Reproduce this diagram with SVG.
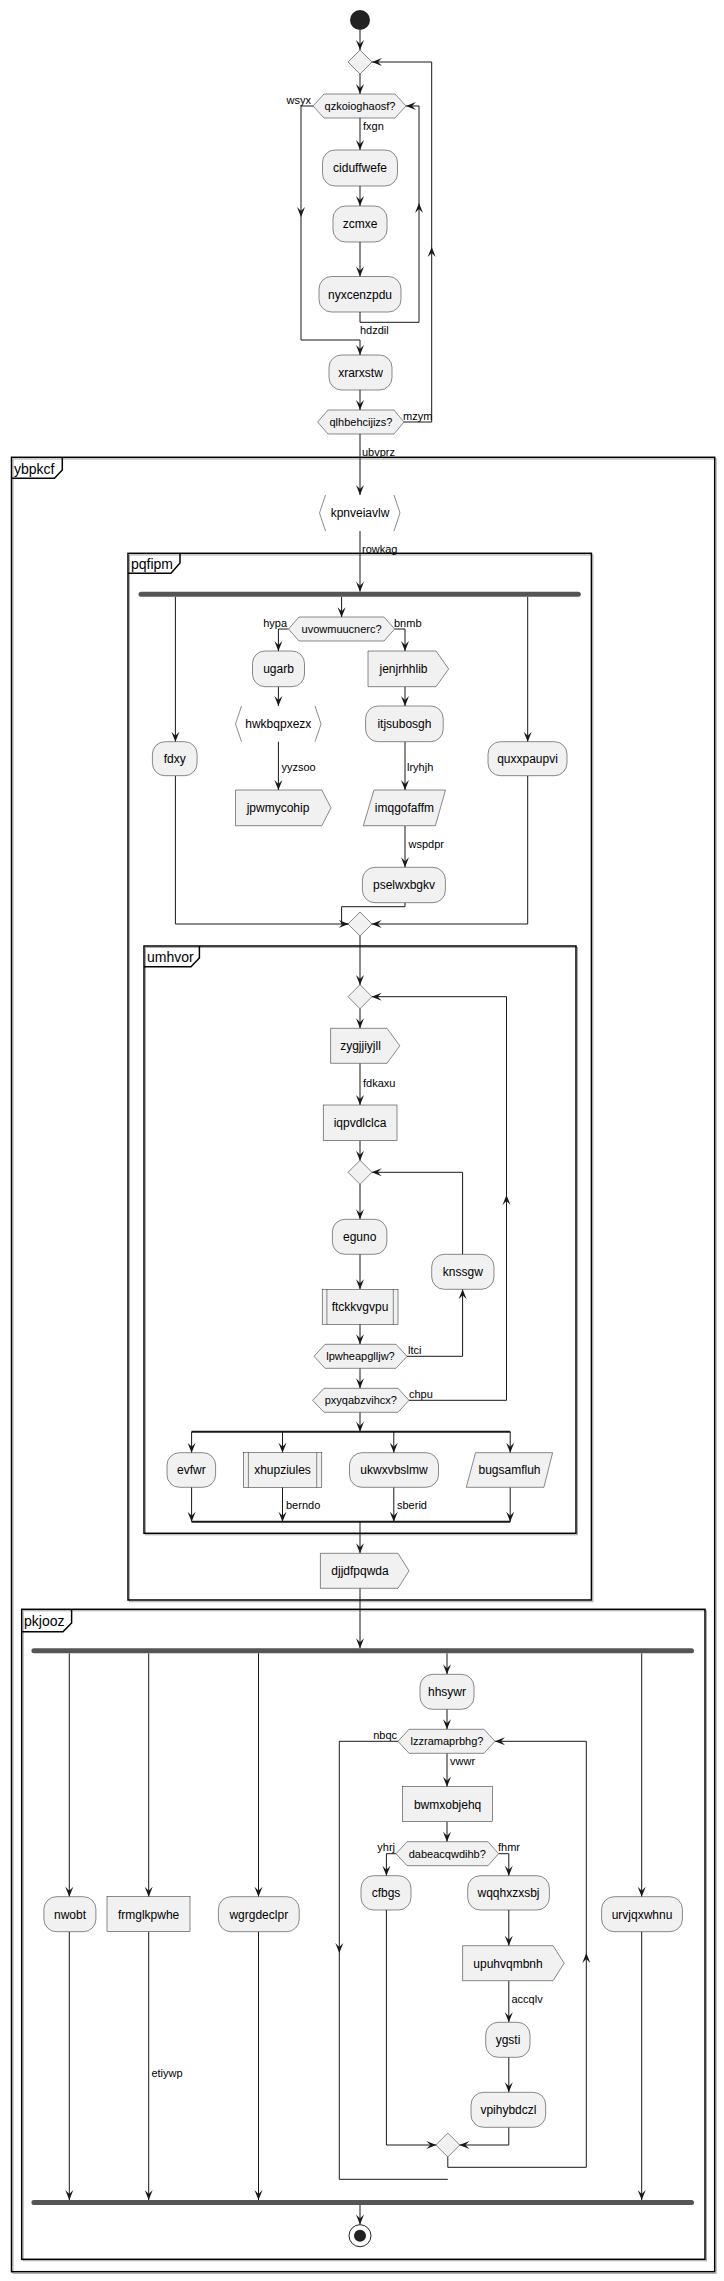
<svg xmlns="http://www.w3.org/2000/svg" xmlns:xlink="http://www.w3.org/1999/xlink" width="724" height="2281" viewBox="0 0 724 2281">
<style>
.n{fill:#F1F1F1;stroke:#181818;stroke-width:0.5}
.b{fill:none;stroke:#181818;stroke-width:0.5}
.t{font-family:"Liberation Sans",Arial,sans-serif;font-size:12px;text-anchor:middle;fill:#000}
.h{font-family:"Liberation Sans",Arial,sans-serif;font-size:11px;text-anchor:middle;fill:#000}
.l{font-family:"Liberation Sans",Arial,sans-serif;font-size:11px;fill:#000}
.r{text-anchor:end}
.e{fill:none;stroke:#181818;stroke-width:1}
.fr{fill:none;stroke:#000;stroke-width:1.5}
.fs{fill:none;stroke:#aaa;stroke-width:1}
.ft{font-family:"Liberation Sans",Arial,sans-serif;font-size:14px;fill:#000}
.bar{fill:#555555}
.sp{stroke:#181818;stroke-width:2}
</style>
<defs>
<path id="ah" d="M0,0 L-4,-10 L0,-6 L4,-10 Z" fill="#181818"/>
</defs>
<rect width="724" height="2281" fill="#fff"/>

<g id="frames">
<rect class="fs" x="13" y="459" width="703.2" height="1814.4"/>
<rect class="fr" x="11.5" y="457.3" width="703.2" height="1814.4"/>
<path class="fr" d="M11.5,478.3 L54.5,478.3 L62.3,470 L62.3,457.3"/>
<text class="ft" x="14" y="474">ybpkcf</text>

<rect class="fs" x="129.5" y="555" width="463.4" height="1046.7"/>
<rect class="fr" x="128" y="553.3" width="463.4" height="1046.7"/>
<path class="fr" d="M128,573.3 L171,573.3 L180,563 L180,553.3"/>
<text class="ft" x="131" y="569">pqfipm</text>

<rect class="fs" x="145.5" y="947.5" width="432" height="587.3"/>
<rect class="fr" x="144" y="946" width="432" height="587.3"/>
<path class="fr" d="M144,966.7 L191,966.7 L199.4,958 L199.4,946"/>
<text class="ft" x="147" y="962">umhvor</text>

<rect class="fs" x="23.2" y="1610.8" width="683.3" height="650"/>
<rect class="fr" x="21.7" y="1609.3" width="683.3" height="650"/>
<path class="fr" d="M21.7,1631.7 L63,1631.7 L71.6,1623 L71.6,1609.3"/>
<text class="ft" x="24" y="1626">pkjooz</text>
</g>

<g id="connectors">
<path class="e" d="M360,30 V50"/><use href="#ah" transform="translate(360,50)"/>
<path class="e" d="M360,74 V94"/><use href="#ah" transform="translate(360,94)"/>
<path class="e" d="M313,106 H301 V340 H360 V355"/><use href="#ah" transform="translate(360,355)"/><use href="#ah" transform="translate(301,217)"/>
<text class="l r" x="311" y="104">wsyx</text>
<path class="e" d="M360,118 V150"/><use href="#ah" transform="translate(360,150)"/>
<text class="l" x="363" y="130">fxgn</text>
<path class="e" d="M360,186 V206"/><use href="#ah" transform="translate(360,206)"/>
<path class="e" d="M360,242 V276.5"/><use href="#ah" transform="translate(360,276.5)"/>
<path class="e" d="M360,312 V322.3 H419 V106 H406"/><use href="#ah" transform="translate(406,106) rotate(90)"/><use href="#ah" transform="translate(419,203) rotate(180)"/>
<text class="l" x="360" y="334">hdzdil</text>
<path class="e" d="M360,390 V410"/><use href="#ah" transform="translate(360,410)"/>
<path class="e" d="M404,422 H431.7 V62 H372"/><use href="#ah" transform="translate(372,62) rotate(90)"/><use href="#ah" transform="translate(431.7,247) rotate(180)"/>
<text class="l" x="403" y="420">mzym</text>
<path class="e" d="M360,434 V495"/><use href="#ah" transform="translate(360,495)"/>
<text class="l" x="362" y="456">ubvprz</text>
<path class="e" d="M360,531 V591.7"/><use href="#ah" transform="translate(360,591.7)"/>
<text class="l" x="362" y="552.5">rowkag</text>

<path class="e" d="M175.4,596.7 V741.7"/><use href="#ah" transform="translate(175.4,741.7)"/>
<path class="e" d="M341.6,596.7 V617.3"/><use href="#ah" transform="translate(341.6,617.3)"/>
<path class="e" d="M527.7,596.7 V741.7"/><use href="#ah" transform="translate(527.7,741.7)"/>
<path class="e" d="M288.5,629 H278.4 V651"/><use href="#ah" transform="translate(278.4,651)"/>
<text class="l r" x="287" y="627">hypa</text>
<path class="e" d="M394.7,629 H405 V651"/><use href="#ah" transform="translate(405,651)"/>
<text class="l" x="394" y="627">bnmb</text>
<path class="e" d="M278.4,686.7 V706"/><use href="#ah" transform="translate(278.4,706)"/>
<path class="e" d="M405,686.7 V706"/><use href="#ah" transform="translate(405,706)"/>
<path class="e" d="M278.4,741.7 V790"/><use href="#ah" transform="translate(278.4,790)"/>
<text class="l" x="281.5" y="770.5">yyzsoo</text>
<path class="e" d="M405,741.7 V790"/><use href="#ah" transform="translate(405,790)"/>
<text class="l" x="407" y="770.5">lryhjh</text>
<path class="e" d="M405,825.7 V867.3"/><use href="#ah" transform="translate(405,867.3)"/>
<text class="l" x="408.5" y="848">wspdpr</text>
<path class="e" d="M405,902.7 V906.7 H341.6 V924 H348.6"/>
<path class="e" d="M175.4,775.7 V924 H348.6"/><use href="#ah" transform="translate(348.6,924) rotate(-90)"/>
<path class="e" d="M527.7,775.7 V924 H371.7"/><use href="#ah" transform="translate(371.7,924) rotate(90)"/>
<path class="e" d="M360,936 V985"/><use href="#ah" transform="translate(360,985)"/>
<path class="e" d="M360,1008.3 V1028.3"/><use href="#ah" transform="translate(360,1028.3)"/>
<path class="e" d="M360,1063.3 V1105"/><use href="#ah" transform="translate(360,1105)"/>
<text class="l" x="363" y="1086.5">fdkaxu</text>
<path class="e" d="M360,1140.7 V1160.7"/><use href="#ah" transform="translate(360,1160.7)"/>
<path class="e" d="M360,1184 V1219.3"/><use href="#ah" transform="translate(360,1219.3)"/>
<path class="e" d="M360,1254.3 V1289.3"/><use href="#ah" transform="translate(360,1289.3)"/>
<path class="e" d="M360,1324.3 V1344.3"/><use href="#ah" transform="translate(360,1344.3)"/>
<path class="e" d="M407,1356.3 H462.6 V1289.3"/><use href="#ah" transform="translate(462.6,1289.3) rotate(180)"/>
<text class="l" x="408" y="1354">ltci</text>
<path class="e" d="M462.6,1254.3 V1172.3 H371.7"/><use href="#ah" transform="translate(371.7,1172.3) rotate(90)"/>
<path class="e" d="M360,1368.3 V1388.3"/><use href="#ah" transform="translate(360,1388.3)"/>
<path class="e" d="M409,1400.3 H506.5 V996.7 H371.7"/><use href="#ah" transform="translate(371.7,996.7) rotate(90)"/><use href="#ah" transform="translate(506.5,1195) rotate(180)"/>
<text class="l" x="409" y="1398">chpu</text>
<path class="e" d="M360,1412.3 V1431.7"/><use href="#ah" transform="translate(360,1431.7)"/>
<line class="sp" x1="191.6" y1="1431.7" x2="510.2" y2="1431.7"/>
<path class="e" d="M191.6,1431.7 V1452.7"/><use href="#ah" transform="translate(191.6,1452.7)"/>
<path class="e" d="M282.5,1431.7 V1452.7"/><use href="#ah" transform="translate(282.5,1452.7)"/>
<path class="e" d="M393.8,1431.7 V1452.7"/><use href="#ah" transform="translate(393.8,1452.7)"/>
<path class="e" d="M510.2,1431.7 V1452.7"/><use href="#ah" transform="translate(510.2,1452.7)"/>
<path class="e" d="M191.6,1487.3 V1521.7"/><use href="#ah" transform="translate(191.6,1521.7)"/>
<path class="e" d="M282.5,1487.3 V1521.7"/><use href="#ah" transform="translate(282.5,1521.7)"/>
<text class="l" x="286" y="1508.5">berndo</text>
<path class="e" d="M393.8,1487.3 V1521.7"/><use href="#ah" transform="translate(393.8,1521.7)"/>
<text class="l" x="397" y="1508.5">sberid</text>
<path class="e" d="M510.2,1487.3 V1521.7"/><use href="#ah" transform="translate(510.2,1521.7)"/>
<line class="sp" x1="191.6" y1="1521.7" x2="510.2" y2="1521.7"/>
<path class="e" d="M360,1521.7 V1553.3"/><use href="#ah" transform="translate(360,1553.3)"/>
<path class="e" d="M360,1588.3 V1648.3"/><use href="#ah" transform="translate(360,1648.3)"/>

<path class="e" d="M69.3,1653.3 V1896.7"/><use href="#ah" transform="translate(69.3,1896.7)"/>
<path class="e" d="M148.7,1653.3 V1896.7"/><use href="#ah" transform="translate(148.7,1896.7)"/>
<path class="e" d="M258.5,1653.3 V1896.7"/><use href="#ah" transform="translate(258.5,1896.7)"/>
<path class="e" d="M447,1653.3 V1674.3"/><use href="#ah" transform="translate(447,1674.3)"/>
<path class="e" d="M641.7,1653.3 V1896.7"/><use href="#ah" transform="translate(641.7,1896.7)"/>
<path class="e" d="M447,1709.3 V1729.3"/><use href="#ah" transform="translate(447,1729.3)"/>
<path class="e" d="M398,1741.3 H339.3 V2179.3 H447.8"/><use href="#ah" transform="translate(339.3,1953)"/>
<text class="l r" x="397" y="1739">nbqc</text>
<path class="e" d="M447,1753.3 V1786.7"/><use href="#ah" transform="translate(447,1786.7)"/>
<text class="l" x="450" y="1765">vwwr</text>
<path class="e" d="M447,1821.7 V1841.7"/><use href="#ah" transform="translate(447,1841.7)"/>
<path class="e" d="M396,1853.7 H386.4 V1875.7"/><use href="#ah" transform="translate(386.4,1875.7)"/>
<text class="l r" x="395" y="1851">yhrj</text>
<path class="e" d="M498.6,1853.7 H508.8 V1875.7"/><use href="#ah" transform="translate(508.8,1875.7)"/>
<text class="l" x="498" y="1851">fhmr</text>
<path class="e" d="M508.8,1910 V1945.7"/><use href="#ah" transform="translate(508.8,1945.7)"/>
<path class="e" d="M508.8,1980.7 V2022.3"/><use href="#ah" transform="translate(508.8,2022.3)"/>
<text class="l" x="511.5" y="2003">accqlv</text>
<path class="e" d="M508.8,2057.3 V2092.3"/><use href="#ah" transform="translate(508.8,2092.3)"/>
<path class="e" d="M386.4,1910 V2145 H436.3"/><use href="#ah" transform="translate(436.3,2145) rotate(-90)"/>
<path class="e" d="M508.8,2127.3 V2145 H459.4"/><use href="#ah" transform="translate(459.4,2145) rotate(90)"/>
<path class="e" d="M447.8,2156.7 V2167.3 H586.3 V1741.3 H495"/><use href="#ah" transform="translate(495,1741.3) rotate(90)"/><use href="#ah" transform="translate(586.3,1953) rotate(180)"/>
<path class="e" d="M69.3,1931.7 V2200"/><use href="#ah" transform="translate(69.3,2200)"/>
<path class="e" d="M148.7,1931.7 V2200"/><use href="#ah" transform="translate(148.7,2200)"/>
<text class="l" x="151.4" y="2076.5">etiywp</text>
<path class="e" d="M258.5,1931.7 V2200"/><use href="#ah" transform="translate(258.5,2200)"/>
<path class="e" d="M641.7,1931.7 V2200"/><use href="#ah" transform="translate(641.7,2200)"/>
<path class="e" d="M360,2205 V2224.5"/><use href="#ah" transform="translate(360,2224.5)"/>
</g>

<g id="start"><circle cx="360" cy="20" r="10" fill="#222"/></g>
<g id="d1"><polygon class="n" points="360,50 372,62 360,74 348,62"/></g>
<g id="qzkoioghaosf"><polygon class="n" points="313,106 324,94 395,94 406,106 395,118 324,118"/><text class="h" x="360" y="110">qzkoioghaosf?</text></g>
<g id="ciduffwefe"><rect class="n" x="322.5" y="150" width="75" height="36" rx="12.5"/><text class="t" x="360" y="172">ciduffwefe</text></g>
<g id="zcmxe"><rect class="n" x="333" y="206" width="54" height="36" rx="12.5"/><text class="t" x="360" y="228">zcmxe</text></g>
<g id="nyxcenzpdu"><rect class="n" x="319" y="276.5" width="82" height="35.5" rx="12.5"/><text class="t" x="360" y="298.5">nyxcenzpdu</text></g>
<g id="xrarxstw"><rect class="n" x="329" y="355" width="63" height="35" rx="12.5"/><text class="t" x="360.5" y="376.5">xrarxstw</text></g>
<g id="qlhbehcijizs"><polygon class="n" points="317.6,422 328,410 394,410 404,422 394,434 328,434"/><text class="h" x="361" y="426">qlhbehcijizs?</text></g>
<g id="kpnveiavlw"><polyline class="b" points="325.5,495 319.5,513 325.5,531"/><polyline class="b" points="394,495 400,513 394,531"/><text class="t" x="360" y="517">kpnveiavlw</text></g>

<g id="fork1"><rect class="bar" x="138.5" y="591.7" width="442.3" height="5" rx="2.5"/></g>
<g id="uvowmuucnerc"><polygon class="n" points="288.5,629 299,617 384,617 394.7,629 384,641 299,641"/><text class="h" x="341.6" y="633">uvowmuucnerc?</text></g>
<g id="ugarb"><rect class="n" x="252.5" y="651" width="52" height="35.7" rx="12.5"/><text class="t" x="278.5" y="673">ugarb</text></g>
<g id="jenjrhhlib"><polygon class="n" points="368,651 436,651 448.7,669 436,686.7 368,686.7"/><text class="t" x="403.5" y="673">jenjrhhlib</text></g>
<g id="hwkbqpxezx"><polyline class="b" points="241.5,706 235.5,724 241.5,741.7"/><polyline class="b" points="315,706 321,724 315,741.7"/><text class="t" x="278.3" y="728">hwkbqpxezx</text></g>
<g id="itjsubosgh"><rect class="n" x="365.6" y="706" width="77.6" height="35.7" rx="12.5"/><text class="t" x="404.4" y="728">itjsubosgh</text></g>
<g id="fdxy"><rect class="n" x="152.4" y="741.7" width="44.7" height="34" rx="12.5"/><text class="t" x="174.8" y="763">fdxy</text></g>
<g id="quxxpaupvi"><rect class="n" x="488" y="741.7" width="79" height="34" rx="12.5"/><text class="t" x="527.5" y="763">quxxpaupvi</text></g>
<g id="jpwmycohip"><polygon class="n" points="235.5,790 321.8,790 331,807.8 321.8,825.7 235.5,825.7"/><text class="t" x="278" y="812">jpwmycohip</text></g>
<g id="imqgofaffm"><polygon class="n" points="374,790 445.5,790 435.4,825.7 363.3,825.7"/><text class="t" x="404.4" y="812">imqgofaffm</text></g>
<g id="pselwxbgkv"><rect class="n" x="362.4" y="867.3" width="83" height="35.4" rx="12.5"/><text class="t" x="404" y="889">pselwxbgkv</text></g>
<g id="merge1"><polygon class="n" points="360,912 372,924 360,936 348,924"/></g>

<g id="loop1"><polygon class="n" points="360,984.7 372,996.7 360,1008.7 348,996.7"/></g>
<g id="zygjjiyjll"><polygon class="n" points="330.6,1028.3 387,1028.3 399.8,1045.8 387,1063.3 330.6,1063.3"/><text class="t" x="360.5" y="1050">zygjjiyjll</text></g>
<g id="iqpvdlclca"><rect class="n" x="323.2" y="1105" width="73.8" height="35.7"/><text class="t" x="360" y="1127">iqpvdlclca</text></g>
<g id="loop2"><polygon class="n" points="360,1160.3 372,1172.3 360,1184.3 348,1172.3"/></g>
<g id="eguno"><rect class="n" x="332.4" y="1219.3" width="54.5" height="35" rx="12.5"/><text class="t" x="359.7" y="1241">eguno</text></g>
<g id="knssgw"><rect class="n" x="431.7" y="1254.3" width="62.3" height="35" rx="12.5"/><text class="t" x="462.8" y="1276">knssgw</text></g>
<g id="ftckkvgvpu"><rect class="n" x="322.2" y="1289.3" width="75.8" height="35"/><line class="b" x1="326.9" y1="1289.3" x2="326.9" y2="1324.3"/><line class="b" x1="393.3" y1="1289.3" x2="393.3" y2="1324.3"/><text class="t" x="360" y="1311">ftckkvgvpu</text></g>
<g id="lpwheapglljw"><polygon class="n" points="314,1356.3 325,1344.3 396,1344.3 407,1356.3 396,1368.3 325,1368.3"/><text class="h" x="360.5" y="1360.3">lpwheapglljw?</text></g>
<g id="pxyqabzvihcx"><polygon class="n" points="312.6,1400.3 324,1388.3 398,1388.3 409,1400.3 398,1412.3 324,1412.3"/><text class="h" x="360.8" y="1404.3">pxyqabzvihcx?</text></g>
<g id="evfwr"><rect class="n" x="167" y="1452.7" width="48.6" height="34.6" rx="12.5"/><text class="t" x="191.3" y="1474">evfwr</text></g>
<g id="xhupziules"><rect class="n" x="243.3" y="1452.7" width="78.5" height="34.6"/><line class="b" x1="248.4" y1="1452.7" x2="248.4" y2="1487.3"/><line class="b" x1="316.7" y1="1452.7" x2="316.7" y2="1487.3"/><text class="t" x="282.5" y="1474">xhupziules</text></g>
<g id="ukwxvbslmw"><rect class="n" x="349.5" y="1452.7" width="89" height="34.6" rx="12.5"/><text class="t" x="394" y="1474">ukwxvbslmw</text></g>
<g id="bugsamfluh"><polygon class="n" points="475.5,1452.7 552.6,1452.7 543.9,1487.3 466.3,1487.3"/><text class="t" x="509.5" y="1474">bugsamfluh</text></g>
<g id="djjdfpqwda"><polygon class="n" points="320.4,1553.3 398,1553.3 409,1570.8 398,1588.3 320.4,1588.3"/><text class="t" x="360" y="1575">djjdfpqwda</text></g>

<g id="fork2"><rect class="bar" x="31.4" y="1648.3" width="662.6" height="5" rx="2.5"/></g>
<g id="hhsywr"><rect class="n" x="420" y="1674.3" width="54" height="35" rx="12.5"/><text class="t" x="447" y="1696">hhsywr</text></g>
<g id="lzzramaprbhg"><polygon class="n" points="398,1741.3 409,1729.3 484,1729.3 495,1741.3 484,1753.3 409,1753.3"/><text class="h" x="447" y="1745.3">lzzramaprbhg?</text></g>
<g id="bwmxobjehq"><rect class="n" x="402.6" y="1786.7" width="90" height="35"/><text class="t" x="447.6" y="1808.5">bwmxobjehq</text></g>
<g id="dabeacqwdihb"><polygon class="n" points="396,1853.7 407,1841.7 488,1841.7 498.6,1853.7 488,1865.7 407,1865.7"/><text class="h" x="447.3" y="1857.7">dabeacqwdihb?</text></g>
<g id="cfbgs"><rect class="n" x="361" y="1875.7" width="50" height="34.3" rx="12.5"/><text class="t" x="386" y="1897">cfbgs</text></g>
<g id="wqqhxzxsbj"><rect class="n" x="467.7" y="1875.7" width="81.7" height="34.3" rx="12.5"/><text class="t" x="508.5" y="1897">wqqhxzxsbj</text></g>
<g id="nwobt"><rect class="n" x="43.9" y="1896.7" width="52" height="35" rx="12.5"/><text class="t" x="70" y="1918.5">nwobt</text></g>
<g id="frmglkpwhe"><rect class="n" x="107" y="1896.7" width="83" height="35"/><text class="t" x="148.6" y="1918.5">frmglkpwhe</text></g>
<g id="wgrgdeclpr"><rect class="n" x="218.4" y="1896.7" width="80.8" height="35" rx="12.5"/><text class="t" x="258.8" y="1918.5">wgrgdeclpr</text></g>
<g id="urvjqxwhnu"><rect class="n" x="601.6" y="1896.7" width="80.8" height="35" rx="12.5"/><text class="t" x="642" y="1918.5">urvjqxwhnu</text></g>
<g id="upuhvqmbnh"><polygon class="n" points="462.6,1945.7 553,1945.7 564.2,1963.2 553,1980.7 462.6,1980.7"/><text class="t" x="508" y="1967.5">upuhvqmbnh</text></g>
<g id="ygsti"><rect class="n" x="485.7" y="2022.3" width="44.3" height="35" rx="12.5"/><text class="t" x="508" y="2044">ygsti</text></g>
<g id="vpihybdczl"><rect class="n" x="471" y="2092.3" width="74.7" height="35" rx="12.5"/><text class="t" x="508.4" y="2114">vpihybdczl</text></g>
<g id="merge2"><polygon class="n" points="447.8,2133 459.8,2145 447.8,2157 435.8,2145"/></g>
<g id="join2"><rect class="bar" x="31.4" y="2200" width="662.6" height="5" rx="2.5"/></g>
<g id="end"><circle cx="360" cy="2235.7" r="11" fill="none" stroke="#222" stroke-width="1"/><circle cx="360" cy="2235.7" r="6" fill="#222"/></g>
</svg>
